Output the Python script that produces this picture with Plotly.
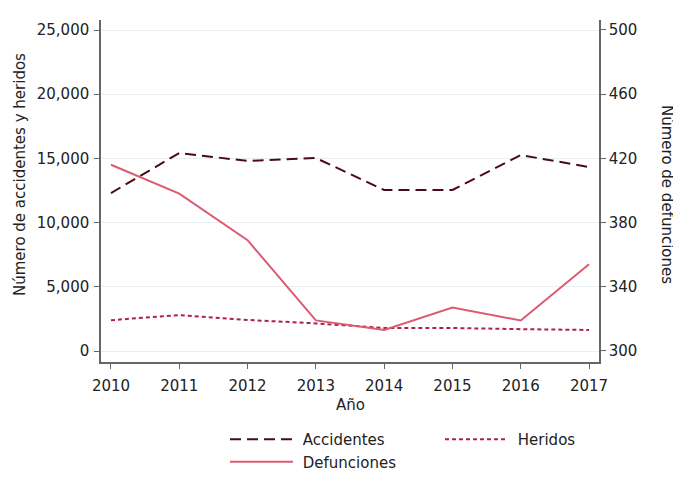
import plotly.graph_objects as go

years = [2010, 2011, 2012, 2013, 2014, 2015, 2016, 2017]
accidentes = [12300, 15420, 14800, 15030, 12540, 12540, 15260, 14330]
heridos = [2400, 2800, 2420, 2150, 1790, 1790, 1700, 1640]
defunciones = [416, 398, 369, 319, 313, 327, 319, 354]

FONT = "DejaVu Sans"
OFF = 8  # default body margin of the html page
W, H = 681 - OFF, 478 - OFF
PL, PR, PT, PB = 101, 599, 20, 362  # plot area in page pixels
L, T = PL - OFF, PT - OFF
R, B = W - (PR - OFF), H - (PB - OFF)
PW, PH = PR - PL, PB - PT


def px(xp):
    return (xp - PL) / PW


def py(yp):
    return (PB - yp) / PH


fig = go.Figure()
fig.add_trace(go.Scatter(x=years, y=accidentes, name=" Accidentes", mode="lines",
                         line=dict(color="#4a0c14", width=2, dash="11px,6px"), legend="legend"))
fig.add_trace(go.Scatter(x=years, y=heridos, name=" Heridos", mode="lines",
                         line=dict(color="#b0204f", width=2, dash="4px,3px"), legend="legend2"))
fig.add_trace(go.Scatter(x=years, y=defunciones, name=" Defunciones", mode="lines", yaxis="y2",
                         line=dict(color="#dc5a72", width=2), legend="legend"))

axis_common = dict(showline=True, linecolor="#666666", linewidth=1.5, ticks="outside",
                   ticklen=5, tickcolor="#666666", tickfont=dict(size=15, color="#222"),
                   zeroline=False, automargin=False)
fig.update_layout(
    width=W, height=H,
    margin=dict(l=L, r=R, t=T, b=B, autoexpand=False),
    paper_bgcolor="white", plot_bgcolor="white",
    font=dict(family=FONT, size=15, color="#222"),
    showlegend=True,
    xaxis=dict(range=[2009.854, 2017.146], tickvals=years, showgrid=False,
               ticklabelstandoff=4, **axis_common),
    yaxis=dict(range=[-857, 25779], tickvals=[0, 5000, 10000, 15000, 20000, 25000],
               tickformat=",", showgrid=True, gridcolor="#e6eff2", gridwidth=1,
               ticklabelstandoff=2, **axis_common),
    yaxis2=dict(range=[293.1, 506.2], tickvals=[300, 340, 380, 420, 460, 500],
                overlaying="y", side="right", showgrid=False, **axis_common),
    legend=dict(x=217 / W, y=1 - 415 / H, xref="container", yref="container",
                xanchor="left", yanchor="top", orientation="v",
                font=dict(size=15), bgcolor="rgba(0,0,0,0)", tracegroupgap=0,
                itemwidth=63),
    legend2=dict(x=432 / W, y=1 - 415 / H, xref="container", yref="container",
                 xanchor="left", yanchor="top", orientation="v",
                 font=dict(size=15), bgcolor="rgba(0,0,0,0)", itemwidth=63),
    annotations=[
        dict(text="Año", xref="paper", yref="paper", x=0.5, y=py(405),
             showarrow=False, font=dict(size=15), xanchor="center", yanchor="middle"),
        dict(text="Número de accidentes y heridos", xref="paper", yref="paper",
             x=px(20), y=py(175), textangle=-90, showarrow=False,
             font=dict(size=15), xanchor="center", yanchor="middle"),
        dict(text="Número de defunciones", xref="paper", yref="paper",
             x=px(667), y=py(194), textangle=90, showarrow=False,
             font=dict(size=15), xanchor="center", yanchor="middle"),
    ],
    shapes=[dict(type="line", xref="paper", yref="paper",
                 x0=px(6), x1=px(6), y0=py(10), y1=py(478),
                 line=dict(color="#dfe9ec", width=1))],
)
fig.write_html("out.html")
